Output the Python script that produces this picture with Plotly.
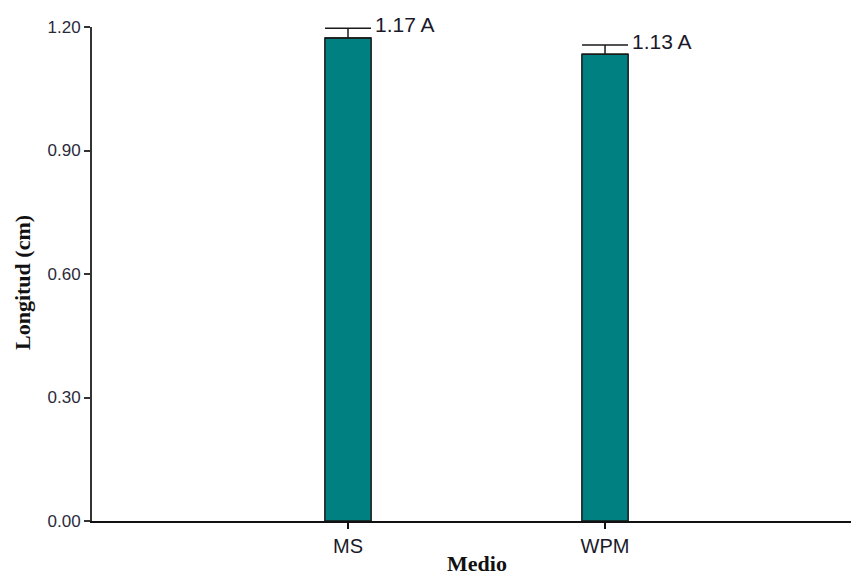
import plotly.graph_objects as go

# Mean length per culture medium, with standard error
medios = ["MS", "WPM"]
longitud = [1.173, 1.134]
error = [0.024, 0.022]
letras = ["A", "A"]
y_ticks = [0.0, 0.3, 0.6, 0.9, 1.2]

fig = go.Figure()
fig.add_trace(go.Bar(
    x=medios,
    y=longitud,
    marker=dict(color="#008080", line=dict(color="#1a1a1a", width=1.5)),
    error_y=dict(type="data", array=error, arrayminus=[0, 0], symmetric=False,
                 color="#1a1a1a", thickness=1.5, width=23),
    showlegend=False,
))

for m, v, e, l in zip(medios, longitud, error, letras):
    fig.add_annotation(
        x=m, y=v + e, text=f"{v:.2f} {l}", showarrow=False,
        xanchor="left", yanchor="middle", xshift=25, yshift=4,
        font=dict(family="Liberation Sans, Arial", size=21, color="#1a1a2a"),
    )

# Axis titles, placed as annotations
title_font = dict(family="Liberation Serif, Times New Roman", color="#111111")
fig.add_annotation(
    xref="paper", yref="paper", x=0, y=0.5, xanchor="center", yanchor="middle",
    xshift=-70, yshift=-9, textangle=-90, showarrow=False,
    text="<b>Longitud (cm)</b>", font=dict(size=22, **title_font),
)
fig.add_annotation(
    xref="paper", yref="paper", x=0.5, y=0, xanchor="center", yanchor="middle",
    xshift=5, yshift=-42, showarrow=False,
    text="<b>Medio</b>", font=dict(size=22, **title_font),
)

fig.update_layout(
    width=851, height=576,
    margin=dict(l=92, r=0, t=27, b=55),
    plot_bgcolor="white", paper_bgcolor="white",
    bargap=0.82,
    xaxis=dict(
        range=[-0.996, 1.957], automargin=False,
        showline=True, linecolor="#111111", linewidth=1.8,
        ticks="outside", ticklen=6, tickcolor="#111111", tickwidth=1.5,
        tickfont=dict(family="Liberation Sans, Arial", size=20, color="#1a1a2a"),
        showgrid=False, zeroline=False,
    ),
    yaxis=dict(
        range=[0, 1.2], automargin=False,
        tickvals=y_ticks, tickformat=".2f",
        showline=True, linecolor="#333333", linewidth=1.8,
        ticks="outside", ticklen=6, tickcolor="#333333", tickwidth=1.5,
        tickfont=dict(family="Liberation Sans, Arial", size=17, color="#2a2a3a"),
        showgrid=False, zeroline=False,
    ),
)

fig.write_html("out.html")
